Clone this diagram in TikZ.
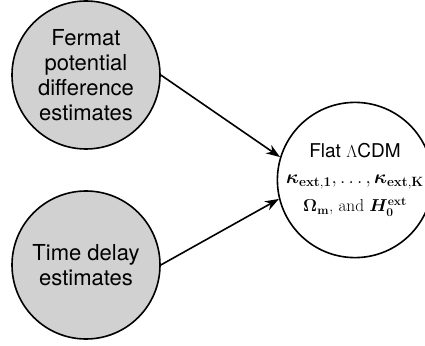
\documentclass[tikz,border=0pt]{standalone}
\usepackage{amsmath,bm}
\usepackage[no-math]{fontspec}
\newfontfamily\hv{TeX Gyre Heros}
\usetikzlibrary{arrows.meta}
\begin{document}
\begin{tikzpicture}[x=1pt,y=1pt,
  src/.style={circle,draw=black,line width=1.6pt,fill=black!18,minimum size=148pt,inner sep=0pt,align=center,
    font=\hv\fontsize{22}{25}\selectfont},
  tgt/.style={circle,draw=black,line width=1.6pt,fill=white,minimum size=146pt,inner sep=0pt,align=center,
    font=\fontsize{17.28}{26}\selectfont},
  conn/.style={line width=1.6pt,-{Stealth[length=14pt,width=10pt]}}]
\useasboundingbox (0,0) rectangle (425,345);
\clip (0,0) rectangle (425,345);
\node[src] (fermat) at (86,270) {Fermat\\potential\\difference\\estimates};
\node[src] (delay) at (86,80) {Time delay\\estimates};
\node[tgt] (model) at (355,165) {{\hv\fontsize{19}{26}\selectfont Flat $\Lambda$CDM}\\
  \scalebox{1.12}{$\bm{\kappa}_{\mathbf{ext},\mathbf{1}},\ldots,\bm{\kappa}_{\mathbf{ext},\mathbf{K}}$}\\[2pt]
  $\bm{\Omega}_{\mathbf{m}}$, and $\bm{H}_{\mathbf{0}}^{\mathbf{ext}}$};
\draw[conn] (fermat.east) -- (model.163);
\draw[conn] (delay.east) -- (model.194);
\end{tikzpicture}
\end{document}
